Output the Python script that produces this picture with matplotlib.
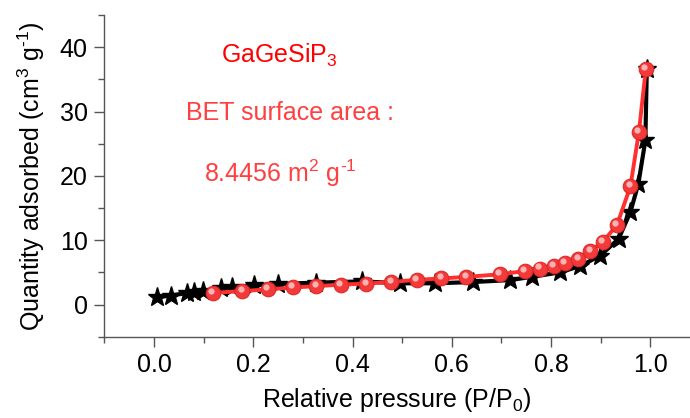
import matplotlib
matplotlib.use("Agg")
import matplotlib.pyplot as plt
import matplotlib.transforms as mtransforms
from matplotlib.ticker import MultipleLocator, FormatStrFormatter

plt.rcParams['font.family'] = ['Liberation Sans', 'DejaVu Sans']
plt.rcParams['mathtext.default'] = 'regular'

# adsorption branch (black stars)
p_ads = [0.005, 0.034, 0.067, 0.081, 0.098, 0.135, 0.158, 0.202, 0.249, 0.327,
         0.42, 0.495, 0.566, 0.643, 0.717, 0.761, 0.818, 0.859, 0.899, 0.936,
         0.96, 0.976, 0.99, 0.993]
v_ads = [1.1, 1.4, 1.8, 1.9, 2.1, 2.5, 2.7, 3.0, 3.2, 3.4,
         3.6, 3.3, 3.3, 3.5, 3.8, 4.3, 5.0, 6.0, 7.6, 10.2,
         14.4, 18.8, 25.5, 36.6]

# desorption branch (red spheres)
p_des = [0.118, 0.178, 0.229, 0.279, 0.327, 0.377, 0.428, 0.478, 0.529, 0.579,
         0.629, 0.697, 0.747, 0.778, 0.805, 0.828, 0.855, 0.879, 0.904, 0.933,
         0.96, 0.977, 0.991]
v_des = [1.8, 2.1, 2.35, 2.65, 2.85, 3.1, 3.25, 3.5, 3.85, 4.05,
         4.3, 4.7, 5.2, 5.6, 5.95, 6.45, 7.1, 8.3, 9.7, 12.4,
         18.4, 26.8, 36.6]

HY = '\u2010'  # plain hyphen in superscripts, like the original

fig = plt.figure(figsize=(6.9, 4.18), dpi=100)
ax = fig.add_axes([0.1514, 0.1945, 0.8486, 0.7695])

ax.plot(p_ads, v_ads, color='black', lw=3, marker='*', ms=14,
        mfc='black', mec='black', zorder=3)
ax.plot(p_des, v_des, color='#ff3030', lw=2.8, marker='o', ms=10.5,
        mfc='#f23a3a', mec='#e02828', mew=0.8, zorder=4)
# sphere highlight
hl = mtransforms.offset_copy(ax.transData, fig=fig, x=-1.2, y=1.5, units='points')
ax.plot(p_des, v_des, ls='none', marker='o', ms=4.5, mfc='#ffc8c8',
        mec='none', alpha=0.85, transform=hl, zorder=5)

ax.set_xlim(-0.1, 1.08)
ax.set_ylim(-5, 45)
ax.xaxis.set_major_locator(MultipleLocator(0.2))
ax.xaxis.set_minor_locator(MultipleLocator(0.1))
ax.yaxis.set_major_locator(MultipleLocator(10))
ax.yaxis.set_minor_locator(MultipleLocator(5))
ax.xaxis.set_major_formatter(FormatStrFormatter('%.1f'))

for s in ['top', 'right']:
    ax.spines[s].set_visible(False)
for s in ['left', 'bottom']:
    ax.spines[s].set_color('#555555')
    ax.spines[s].set_linewidth(1.0)
ax.tick_params(which='major', direction='out', length=7, width=1,
               color='#555555', labelsize=18, pad=5)
ax.tick_params(which='minor', direction='out', length=4, width=1, color='#555555')

ax.set_xlabel('Relative pressure (P/P$_0$)', fontsize=18, labelpad=6)
ax.set_ylabel('Quantity adsorbed (cm$^3$ g$^{' + HY + '1}$)', fontsize=18, labelpad=9)

fig.text(221 / 690, 1 - 55 / 418, 'GaGeSiP$_3$', fontsize=18, color='#ff0000',
         va='center', ha='left')
fig.text(186 / 690, 1 - 113 / 418, 'BET surface area :', fontsize=18,
         color='#ff4040', va='center', ha='left')
fig.text(204 / 690, 1 - 173 / 418, '8.4456 m$^2$ g$^{' + HY + '1}$', fontsize=18,
         color='#ff4040', va='center', ha='left')

fig.savefig('out.png', dpi=100)
